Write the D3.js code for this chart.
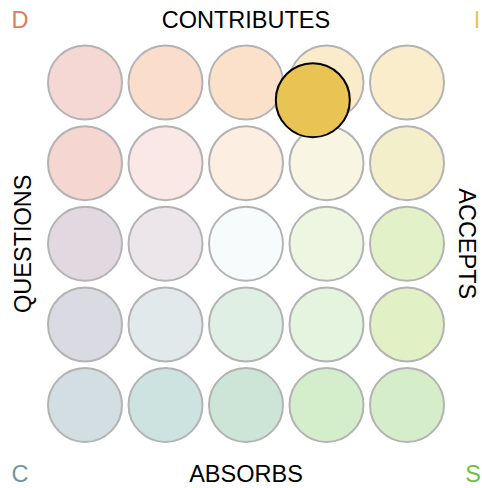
<!DOCTYPE html>
<html>
<head>
<meta charset="utf-8">
<script src="https://cdn.jsdelivr.net/npm/d3@7"></script>
<style>
  html, body { margin: 0; padding: 0; background: #fff; }
  svg { display: block; }
  text { font-family: "Liberation Sans", Arial, sans-serif; }
</style>
</head>
<body>
<svg id="chart" width="482" height="488"></svg>
<script>
const cols = [0, 1, 2, 3, 4];
const rows = [0, 1, 2, 3, 4];
const cellColors = [
  ["#F5D8D3", "#FBDDCC", "#FCE1CA", "#FAEBCB", "#F9EDCB"],
  ["#F5D6D0", "#F9E8E6", "#FDEEE2", "#F8F6E2", "#F3EFCB"],
  ["#E2D8E0", "#ECE5E9", "#F7FBFC", "#EEF5E0", "#E2F1C8"],
  ["#DADAE2", "#E1E9EB", "#DFEFE4", "#E5F4DF", "#E2F0C6"],
  ["#D3DEE2", "#CCE3DF", "#CDE5D6", "#D4EDCA", "#D5EDC8"]
];
const highlight = { col: 2.83, row: 0.22, color: "#EAC355" };
const sideLabels = ["CONTRIBUTES", "ACCEPTS", "ABSORBS", "QUESTIONS"];
const cornerLabels = [
  { text: "D", corner: "tl", color: "#E07B5F" },
  { text: "I", corner: "tr", color: "#E8C84E" },
  { text: "C", corner: "bl", color: "#6E97A8" },
  { text: "S", corner: "br", color: "#6CC04A" }
];

const svg = d3.select("#chart");
const x = d3.scaleLinear().domain([0, 4]).range([85, 407]);
const y = d3.scaleLinear().domain([0, 4]).range([82.5, 405]);
const r = 37;

const cells = [];
rows.forEach(j => cols.forEach(i => cells.push({ i, j, color: cellColors[j][i] })));

svg.append("g").selectAll("circle").data(cells).join("circle")
  .attr("cx", d => x(d.i)).attr("cy", d => y(d.j)).attr("r", r)
  .attr("fill", d => d.color).attr("stroke", "#B3B3B3").attr("stroke-width", 2);

svg.append("circle")
  .attr("cx", x(highlight.col)).attr("cy", y(highlight.row)).attr("r", r)
  .attr("fill", highlight.color).attr("stroke", "#000").attr("stroke-width", 2);

const cx = (x(0) + x(4)) / 2, cy = (y(0) + y(4)) / 2;
const fs = 23.5;
svg.append("text").attr("x", cx).attr("y", 28).attr("text-anchor", "middle")
  .attr("font-size", fs).text(sideLabels[0]);
svg.append("text").attr("x", cx).attr("y", 482).attr("text-anchor", "middle")
  .attr("font-size", fs).text(sideLabels[2]);
svg.append("text").attr("transform", `translate(31,${cy}) rotate(-90)`).attr("text-anchor", "middle")
  .attr("font-size", fs).text(sideLabels[3]);
svg.append("text").attr("transform", `translate(459,${cy}) rotate(90)`).attr("text-anchor", "middle")
  .attr("font-size", fs).text(sideLabels[1]);

const pos = {
  tl: { x: 20, y: 28 }, tr: { x: 477, y: 28 },
  bl: { x: 20, y: 482 }, br: { x: 473, y: 482 }
};
svg.append("g").selectAll("text").data(cornerLabels).join("text")
  .attr("x", d => pos[d.corner].x).attr("y", d => pos[d.corner].y)
  .attr("text-anchor", "middle").attr("font-size", fs)
  .attr("fill", d => d.color).text(d => d.text);
</script>
</body>
</html>
